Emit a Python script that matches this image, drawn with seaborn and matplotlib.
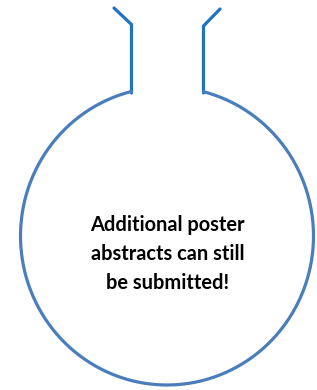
import numpy as np
import pandas as pd
import matplotlib
matplotlib.use("Agg")
import matplotlib.pyplot as plt
import seaborn as sns

# flask outline (pixel coordinates, y down)
neck_left_x = [114, 131.5, 131.5]
neck_left_y = [8, 24.5, 93]
neck_right_x = [220, 203.5, 203.5]
neck_right_y = [9, 26, 93]

bulb_center = (167, 236)
bulb_radius = (146.5, 149)

lines = ["Additional poster", "abstracts can still", "be submitted!"]
line_y = [225, 254, 283]

neck_color = "#1f72c4"
bulb_color = "#4a7ebb"

sns.set_style("white")
plt.rcParams["font.family"] = ["Lato", "DejaVu Sans"]

fig = plt.figure(figsize=(3.17, 3.90), dpi=100)
ax = fig.add_axes([0, 0, 1, 1])

neck = pd.DataFrame({
    "x": neck_left_x + neck_right_x,
    "y": neck_left_y + neck_right_y,
    "side": ["left"] * 3 + ["right"] * 3,
})
sns.lineplot(data=neck, x="x", y="y", units="side", estimator=None, sort=False,
             color=neck_color, linewidth=2.3, ax=ax, solid_capstyle="round",
             solid_joinstyle="miter")

# round bulb: ellipse arc from left neck foot, around the bottom, to right neck foot
cx, cy = bulb_center
rx, ry = bulb_radius
t0 = np.arccos((neck_left_x[-1] - cx) / rx)
t1 = 2 * np.pi + np.arccos((neck_right_x[-1] - cx) / rx)
t = np.linspace(t0, t1, 400)
bulb = pd.DataFrame({"x": cx + rx * np.cos(t), "y": cy - ry * np.sin(t)})
sns.lineplot(data=bulb, x="x", y="y", sort=False, color=bulb_color,
             linewidth=2.3, ax=ax)

for txt, y in zip(lines, line_y):
    ax.text(167.5, y, txt, ha="center", va="center", fontsize=14.4,
            fontweight="bold", color="black")

ax.set_xlim(0, 317)
ax.set_ylim(390, 0)
ax.set_axis_off()
fig.savefig("out.png", dpi=100, facecolor="white")
